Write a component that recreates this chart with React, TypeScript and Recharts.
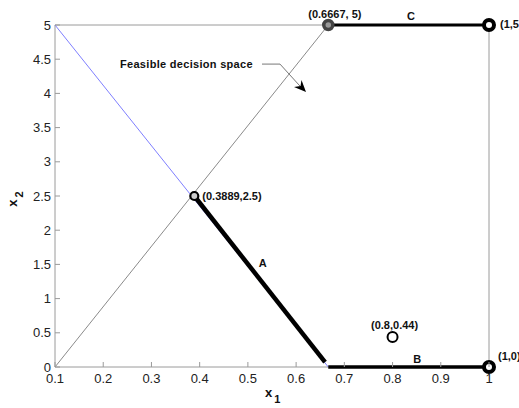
import React from 'react';
import { ComposedChart, Line, Scatter, XAxis, YAxis, ReferenceDot, Label } from 'recharts';

const xTicks = [0.1, 0.2, 0.3, 0.4, 0.5, 0.6, 0.7, 0.8, 0.9, 1];
const yTicks = [0, 0.5, 1, 1.5, 2, 2.5, 3, 3.5, 4, 4.5, 5];

// box around the axes, drawn under the series
const frame = [
  { x: 0.1, y: 0 },
  { x: 1, y: 0 },
  { x: 1, y: 5 },
  { x: 0.1, y: 5 },
  { x: 0.1, y: 0 },
];

// constraint boundaries
const blueLine = [{ x: 0.1, y: 5 }, { x: 0.6667, y: 0 }];
const grayLine = [{ x: 0.1, y: 0 }, { x: 0.6667, y: 5 }];

// pareto segments A, B, C
const segA = [{ x: 0.3889, y: 2.5 }, { x: 0.66, y: 0.07 }];
const segB = [{ x: 0.6667, y: 0 }, { x: 1, y: 0 }];
const segC = [{ x: 0.6667, y: 5 }, { x: 1, y: 5 }];

// markers
const cornerPts = [{ x: 1, y: 5 }, { x: 1, y: 0 }];
const topVertex = [{ x: 0.6667, y: 5 }];
const midVertex = [{ x: 0.3889, y: 2.5 }];
const samplePt = [{ x: 0.8, y: 0.44 }];

const pointLabels = [
  { x: 0.6667, y: 5, text: '(0.6667, 5)' },
  { x: 1, y: 5, text: '(1,5)' },
  { x: 0.3889, y: 2.5, text: '(0.3889,2.5)' },
  { x: 0.8, y: 0.44, text: '(0.8,0.44)' },
  { x: 1, y: 0, text: '(1,0)' },
];
const segLabels = [
  { x: 0.531, y: 1.46, text: 'A' },
  { x: 0.851, y: 0, text: 'B' },
  { x: 0.838, y: 5, text: 'C' },
];
const annotation = { x: 0.2348, y: 4.37, text: 'Feasible decision space' };

const labelOffsets: Record<string, { dx: number; dy: number; anchor: string }> = {
  '(0.6667, 5)': { dx: -20, dy: -7, anchor: 'start' },
  '(1,5)': { dx: 11, dy: 3, anchor: 'start' },
  '(0.3889,2.5)': { dx: 8, dy: 4, anchor: 'start' },
  '(0.8,0.44)': { dx: 2, dy: -8, anchor: 'middle' },
  '(1,0)': { dx: 9, dy: -7, anchor: 'start' },
  A: { dx: 0, dy: 0, anchor: 'middle' },
  B: { dx: 0, dy: -4, anchor: 'middle' },
  C: { dx: 0, dy: -5, anchor: 'middle' },
};

const axisColor = '#9a9a9a';
const font = '"Liberation Sans", Arial, sans-serif';

// inward ticks, MATLAB style
const BottomTick = ({ x, y, payload }: any) => (
  <g>
    <line x1={x} y1={y} x2={x} y2={y - 5} stroke={axisColor} />
    <text x={x} y={y + 16} textAnchor="middle" fontSize={13} fill="#222" fontFamily={font}>
      {payload.value}
    </text>
  </g>
);
const TopTick = ({ x, y }: any) => <line x1={x} y1={y} x2={x} y2={y + 5} stroke={axisColor} />;
const LeftTick = ({ x, y, payload }: any) => (
  <g>
    <line x1={x} y1={y} x2={x + 5} y2={y} stroke={axisColor} />
    <text x={x - 4} y={y + 4.5} textAnchor="end" fontSize={13} fill="#222" fontFamily={font}>
      {payload.value}
    </text>
  </g>
);
const RightTick = ({ x, y }: any) => <line x1={x} y1={y} x2={x - 5} y2={y} stroke={axisColor} />;

const textShape = ({ cx, cy, payload }: any) => {
  const o = labelOffsets[payload.text];
  return (
    <text x={cx + o.dx} y={cy + o.dy} textAnchor={o.anchor} fontSize={11} fontWeight="bold" fill="#111" fontFamily={font}>
      {payload.text}
    </text>
  );
};

const ring = (r: number, sw: number, stroke: string, fill: string) => ({ cx, cy }: any) => (
  <circle cx={cx} cy={cy} r={r} stroke={stroke} strokeWidth={sw} fill={fill} />
);

const annotationShape = ({ cx, cy }: any) => (
  <g>
    <text x={cx} y={cy} fontSize={11} fontWeight="bold" fill="#111" fontFamily={font} letterSpacing={0.3}>
      {annotation.text}
    </text>
    <polyline
      points={`${cx + 142},${cy - 4} ${cx + 160},${cy - 4} ${cx + 180},${cy + 18}`}
      fill="none"
      stroke="#777"
      strokeWidth={1}
    />
    <polygon
      points={`${cx + 186},${cy + 24} ${cx + 174},${cy + 19} ${cx + 180.5},${cy + 18} ${cx + 181.5},${cy + 12}`}
      fill="#000"
    />
  </g>
);

export default function App() {
  return (
    <div
      style={{
        position: 'absolute',
        left: 0,
        top: 0,
        width: 519,
        height: 408,
        overflow: 'hidden',
        background: '#fff',
        fontFamily: font,
      }}
    >
      <ComposedChart width={519} height={408} margin={{ top: 24, right: 29, bottom: 40, left: 54 }}>
        <XAxis
          xAxisId="b"
          dataKey="x"
          type="number"
          domain={[0.1, 1]}
          ticks={xTicks}
          height={1}
          tickSize={0}
          tickMargin={0}
          tick={<BottomTick />}
          tickLine={false}
          axisLine={false}
          interval={0}
        >
          <Label
            content={({ viewBox }: any) => {
              const vb = viewBox || { x: 55, y: 367, width: 434 };
              return (
                <text x={vb.x + vb.width / 2 - 7} y={vb.y + 30} fontSize={13} fontWeight="bold" fill="#111" fontFamily={font}>
                  x
                  <tspan dx={2} dy={6} fontSize={11}>
                    1
                  </tspan>
                </text>
              );
            }}
          />
        </XAxis>
        <XAxis
          xAxisId="t"
          orientation="top"
          type="number"
          domain={[0.1, 1]}
          ticks={xTicks}
          height={1}
          tickSize={0}
          tickMargin={0}
          tick={<TopTick />}
          tickLine={false}
          axisLine={false}
          interval={0}
        />
        <YAxis
          yAxisId="l"
          dataKey="y"
          type="number"
          domain={[0, 5]}
          ticks={yTicks}
          width={1}
          tickSize={0}
          tickMargin={0}
          tick={<LeftTick />}
          tickLine={false}
          axisLine={false}
          interval={0}
        >
          <Label
            content={({ viewBox }: any) => {
              const vb = viewBox || { x: 54, y: 25, height: 342 };
              const cx = vb.x - 37;
              const cy = vb.y + vb.height / 2 + 3;
              return (
                <text
                  x={cx}
                  y={cy}
                  transform={`rotate(-90 ${cx} ${cy})`}
                  textAnchor="middle"
                  fontSize={13}
                  fontWeight="bold"
                  fill="#111"
                  fontFamily={font}
                >
                  x
                  <tspan dx={2} dy={6} fontSize={11}>
                    2
                  </tspan>
                </text>
              );
            }}
          />
        </YAxis>
        <YAxis
          yAxisId="r"
          orientation="right"
          type="number"
          domain={[0, 5]}
          ticks={yTicks}
          width={1}
          tickSize={0}
          tickMargin={0}
          tick={<RightTick />}
          tickLine={false}
          axisLine={false}
          interval={0}
        />

        <Line xAxisId="b" yAxisId="l" data={frame} dataKey="y" type="linear" stroke={axisColor} strokeWidth={1} dot={false} isAnimationActive={false} />
        <Line xAxisId="b" yAxisId="l" data={blueLine} dataKey="y" type="linear" stroke="#7f7fff" strokeWidth={1} dot={false} isAnimationActive={false} />
        <Line xAxisId="b" yAxisId="l" data={grayLine} dataKey="y" type="linear" stroke="#8a8a8a" strokeWidth={1} dot={false} isAnimationActive={false} />
        <Line xAxisId="b" yAxisId="l" data={segA} dataKey="y" type="linear" stroke="#000" strokeWidth={4.5} dot={false} isAnimationActive={false} />
        <Line xAxisId="b" yAxisId="l" data={segB} dataKey="y" type="linear" stroke="#000" strokeWidth={3.5} dot={false} isAnimationActive={false} />
        <Line xAxisId="b" yAxisId="l" data={segC} dataKey="y" type="linear" stroke="#000" strokeWidth={3} dot={false} isAnimationActive={false} />

        <Scatter xAxisId="b" yAxisId="l" data={midVertex} dataKey="y" shape={ring(4, 2.2, '#000', '#ccc')} isAnimationActive={false} />
        <Scatter xAxisId="b" yAxisId="l" data={topVertex} dataKey="y" shape={ring(4.5, 3.5, '#444', '#999')} isAnimationActive={false} />
        <Scatter xAxisId="b" yAxisId="l" data={cornerPts} dataKey="y" shape={ring(5, 4, '#000', '#fff')} isAnimationActive={false} />
        <Scatter xAxisId="b" yAxisId="l" data={samplePt} dataKey="y" shape={ring(5, 2, '#000', '#fff')} isAnimationActive={false} />

        <Scatter xAxisId="b" yAxisId="l" data={pointLabels} dataKey="y" shape={textShape} isAnimationActive={false} />
        <Scatter xAxisId="b" yAxisId="l" data={segLabels} dataKey="y" shape={textShape} isAnimationActive={false} />

        <ReferenceDot xAxisId="b" yAxisId="l" x={annotation.x} y={annotation.y} r={0} shape={annotationShape} />
      </ComposedChart>
    </div>
  );
}
